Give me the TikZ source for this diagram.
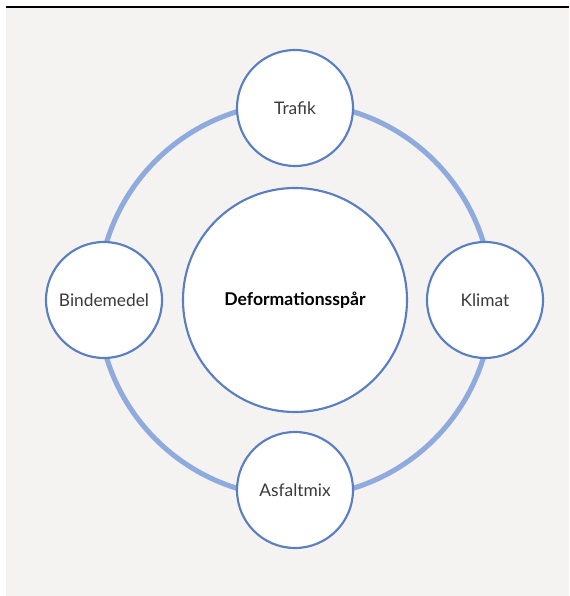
\documentclass[tikz,border=0pt]{standalone}
\usepackage{fontspec}
\setmainfont{Lato}
\definecolor{bgGray}{HTML}{F5F3F1}
\definecolor{ringBlue}{HTML}{8FAADC}
\definecolor{edgeBlue}{HTML}{5A7FC0}
\definecolor{txtGray}{HTML}{3A3A3A}
\tikzset{
  factor/.style={circle, draw=edgeBlue, line width=1.6pt, fill=white,
    minimum size=87pt, inner sep=0pt, text=txtGray, font=\fontsize{13}{15}\selectfont},
  core/.style={factor, minimum size=168pt, text=black, font=\bfseries\fontsize{13.2}{15}\selectfont},
  ring/.style={ringBlue, line width=3.8pt}
}
\begin{document}
\begin{tikzpicture}[x=0.75pt, y=0.75pt]
\useasboundingbox (0,0) rectangle (569,596);
\fill[bgGray] (6,0) rectangle (569,588);
\draw[line width=1.2pt] (6,589) -- (569,589);

\coordinate (M) at (295,296);
\draw[ring] (M) circle (147.75pt);

\node[core] (D) at (M) {Deformationsspår};
\node[factor] (T) at (295,488) {Trafik};
\node[factor] (K) at (485,296) {Klimat};
\node[factor] (A) at (295,106) {Asfaltmix};
\node[factor] (B) at (104,296) {Bindemedel};
\end{tikzpicture}
\end{document}
